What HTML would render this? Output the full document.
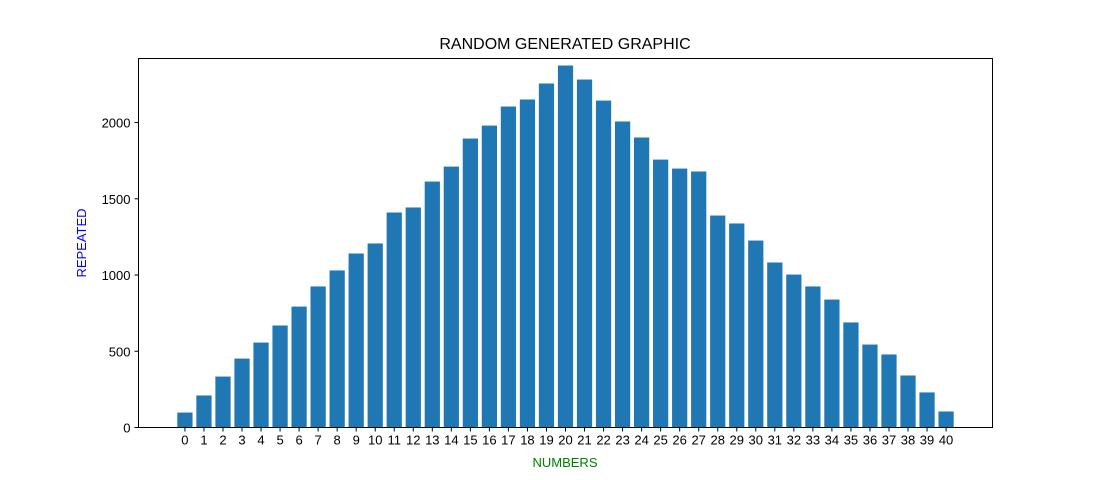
<!DOCTYPE html>
<html><head><meta charset="utf-8"><style>
body{margin:0;background:#fff;}
svg{display:block;font-family:"Liberation Sans","DejaVu Sans",sans-serif;}
</style></head><body>
<svg id="chart" width="1103" height="480" viewBox="0 0 1103 480">
<rect x="0" y="0" width="1103" height="480" fill="#fff"/>
<text x="565" y="49" text-anchor="middle" font-size="16">RANDOM GENERATED GRAPHIC</text>
<g id="bars"></g>
<g id="xticks"></g>
<g id="yticks"></g>
<rect x="138.5" y="58.5" width="854" height="369" fill="none" stroke="#000" stroke-width="1"/>
<text x="565" y="467" text-anchor="middle" font-size="13" fill="green">NUMBERS</text>
<text transform="translate(86,243) rotate(-90)" text-anchor="middle" font-size="13" fill="blue">REPEATED</text>
</svg>
<script>
const categories = Array.from({length:41},(_,i)=>String(i));
const values = [98,210,334,452,557,669,793,925,1030,1141,1207,1410,1443,1613,1711,1895,1980,2105,2151,2256,2374,2282,2144,2007,1902,1757,1698,1679,1390,1338,1226,1082,1003,925,839,689,544,479,341,230,105];
const yTicks = [0,500,1000,1500,2000];
const NS="http://www.w3.org/2000/svg";
const x0=138.5,x1=992.5,yB=427.5,yT=58.5;
const n=categories.length;
const dMin=-0.4-0.05*(n-1+0.8), dMax=n-1+0.4+0.05*(n-1+0.8);
const xs=v=>x0+(v-dMin)/(dMax-dMin)*(x1-x0);
const yMax=2420;
const ys=v=>yB-v/yMax*(yB-yT);
const bars=document.getElementById('bars'),xt=document.getElementById('xticks'),yt=document.getElementById('yticks');
values.forEach((v,i)=>{
  const r=document.createElementNS(NS,'rect');
  
  
  const l=xs(i-0.4),rr=xs(i+0.4);
  r.setAttribute('x',l);r.setAttribute('width',rr-l);
  r.setAttribute('y',ys(v));r.setAttribute('height',yB-ys(v));
  r.setAttribute('fill','#1f77b4');
  bars.appendChild(r);
});
categories.forEach((c,i)=>{
  const x=xs(i);
  const t=document.createElementNS(NS,'line');
  
  
  t.setAttribute('x1',x);t.setAttribute('x2',x);t.setAttribute('y1',yB);t.setAttribute('y2',yB+4);t.setAttribute('stroke','#000');
  xt.appendChild(t);
  const s=document.createElementNS(NS,'text');
  
  
  s.setAttribute('x',x);s.setAttribute('y',yB+17);s.setAttribute('text-anchor','middle');s.setAttribute('font-size','13');
  s.textContent=c;xt.appendChild(s);
});
yTicks.forEach(v=>{
  const y=ys(v);
  const t=document.createElementNS(NS,'line');
  
  
  t.setAttribute('x1',x0-4);t.setAttribute('x2',x0);t.setAttribute('y1',y);t.setAttribute('y2',y);t.setAttribute('stroke','#000');
  yt.appendChild(t);
  const s=document.createElementNS(NS,'text');
  
  
  s.setAttribute('x',x0-8);s.setAttribute('y',y+5);s.setAttribute('text-anchor','end');s.setAttribute('font-size','13');
  s.textContent=v;yt.appendChild(s);
});
</script>
</body></html>
